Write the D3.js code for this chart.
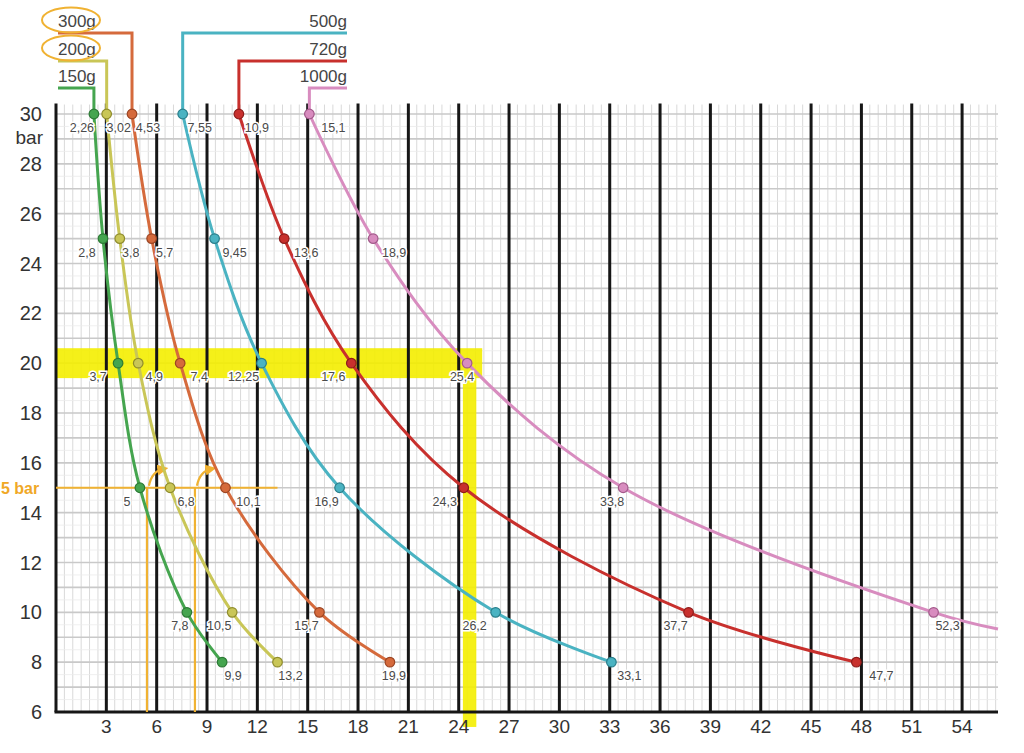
<!DOCTYPE html>
<html><head><meta charset="utf-8">
<script src="https://cdn.jsdelivr.net/npm/d3@7"></script>
<style>
html,body{margin:0;padding:0;background:#fff;}
svg{display:block;}
.cond{font-family:"Liberation Sans Narrow","Arial Narrow","Liberation Sans",Arial,sans-serif;}
</style></head>
<body><svg id="c" width="1024" height="753"></svg>
<script>
// ---- data ----
const pressures = [30, 25, 20, 15, 10, 8];
const seriesNames = ["150g", "200g", "300g", "500g", "720g", "1000g"];
const flow150 = [2.26, 2.8, 3.7, 5, 7.8, 9.9];
const flow200 = [3.02, 3.8, 4.9, 6.8, 10.5, 13.2];
const flow300 = [4.53, 5.7, 7.4, 10.1, 15.7, 19.9];
const flow500 = [7.55, 9.45, 12.25, 16.9, 26.2, 33.1];
const flow720 = [10.9, 13.6, 17.6, 24.3, 37.7, 47.7];
const flow1000 = [15.1, 18.9, 24.5, 33.8, 52.3];
const labels150 = ["2,26", "2,8", "3,7", "5", "7,8", "9,9"];
const labels200 = ["3,02", "3,8", "4,9", "6,8", "10,5", "13,2"];
const labels300 = ["4,53", "5,7", "7,4", "10,1", "15,7", "19,9"];
const labels500 = ["7,55", "9,45", "12,25", "16,9", "26,2", "33,1"];
const labels720 = ["10,9", "13,6", "17,6", "24,3", "37,7", "47,7"];
const labels1000 = ["15,1", "18,9", "25,4", "33,8", "52,3"];
const tail1000 = {x: 56.14, p: 9.33}; // where the 1000g curve leaves the chart
const xTicks = [3, 6, 9, 12, 15, 18, 21, 24, 27, 30, 33, 36, 39, 42, 45, 48, 51, 54];
const yTicks = [6, 8, 10, 12, 14, 16, 18, 20, 22, 24, 26, 28, 30];
const highlightFlow = 25.4, highlightBar = 20;
const annotBar = 15, annotFlows = [5.42, 8.28], annotEnd = 13.2;

// ---- styles / layout ----
const colors = ["#45a54f", "#c9c657", "#d56a3c", "#4ab3c2", "#c8302d", "#d88cbf"];
const strokeDark = ["#2c7a35", "#8f8c2c", "#9c4523", "#2a7f8c", "#8e1d1b", "#a35a8b"];
const labelDx = [
  [-12, -16, -20, -13, -7, 11],
  [12, 11, 16, 16, -13, 13],
  [16, 13, 19, 23, -13, 4],
  [17, 20, -18, -13, -21, 18],
  [18, 22, -18, -19, -13, 25],
  [24, 21, -5, -11, 14]
];
const legendLeft = [true, true, true, false, false, false];
const legendY = [88, 61, 33, 33, 61, 88];
const legendTextY = [82, 55, 27, 27, 55, 82];

const flows = [flow150, flow200, flow300, flow500, flow720, flow1000];
const labs = [labels150, labels200, labels300, labels500, labels720, labels1000];

const svg = d3.select("#c");
const x = d3.scaleLinear().domain([0, 56.14]).range([56, 998]);
const y = d3.scaleLinear().domain([6, 30]).range([712, 114]);
const yTop = y(30.38);

svg.append("rect").attr("width", 1024).attr("height", 753).attr("fill", "#fff");

// minor grid
const g = svg.append("g");
g.selectAll(".vm").data(d3.range(0.5, 56.1, 0.5)).join("line")
  .attr("x1", d => x(d)).attr("x2", d => x(d)).attr("y1", yTop).attr("y2", y(6))
  .attr("stroke", "#d9d9d9").attr("stroke-width", 1);
g.selectAll(".hm").data(d3.range(6.5, 30.4, 0.5)).join("line")
  .attr("x1", x(0)).attr("x2", x(56.14)).attr("y1", d => y(d)).attr("y2", d => y(d))
  .attr("stroke", d => Number.isInteger(d) ? "#c9c9c9" : "#ebebeb").attr("stroke-width", d => Number.isInteger(d) ? 1.6 : 0.8);

// yellow highlight
const yel = svg.append("g").attr("fill", "#f4ee00").attr("opacity", 0.9);
yel.append("rect").attr("x", x(0)).attr("width", x(highlightFlow) - x(0))
  .attr("y", y(highlightBar + 0.6)).attr("height", y(highlightBar - 0.6) - y(highlightBar + 0.6));
yel.append("rect").attr("x", x(24.25)).attr("width", x(25.05) - x(24.25))
  .attr("y", y(highlightBar - 0.6)).attr("height", y(5.4) - y(highlightBar - 0.6));

// black major verticals and axes
svg.append("g").selectAll("line").data([0].concat(xTicks)).join("line")
  .attr("x1", d => x(d)).attr("x2", d => x(d)).attr("y1", yTop - 1).attr("y2", y(6))
  .attr("stroke", "#161616").attr("stroke-width", 3);
svg.append("line").attr("x1", x(0) - 1.5).attr("x2", x(56.14)).attr("y1", y(6)).attr("y2", y(6))
  .attr("stroke", "#161616").attr("stroke-width", 3);

// orange annotation (5 bar)
const ora = "#f0b232";
const an = svg.append("g").attr("stroke", ora).attr("stroke-width", 2.2).attr("fill", "none");
an.append("line").attr("x1", x(0)).attr("x2", x(annotEnd)).attr("y1", y(annotBar)).attr("y2", y(annotBar));
annotFlows.forEach(f => {
  an.append("line").attr("x1", x(f)).attr("x2", x(f)).attr("y1", y(annotBar)).attr("y2", y(6));
});
svg.append("defs").append("marker").attr("id", "ah").attr("viewBox", "0 0 10 10")
  .attr("refX", 5).attr("refY", 5).attr("markerWidth", 5).attr("markerHeight", 5).attr("orient", "auto")
  .append("path").attr("d", "M0,0L10,5L0,10z").attr("fill", ora);
annotFlows.forEach(f => {
  const x0 = x(f) + 2, y0 = y(annotBar) - 2, x1 = x(f + 0.95), y1 = y(annotBar + 0.75);
  an.append("path").attr("d", `M${x0},${y0}Q${x0 + 3},${y1 + 2} ${x1},${y1}`).attr("marker-end", "url(#ah)");
});
svg.append("text").attr("x", 1).attr("y", y(annotBar) + 6).text("5 bar")
  .attr("fill", "#f0a826").attr("font-weight", "bold").attr("font-size", 16)
  .attr("font-family", "Liberation Sans, Arial, sans-serif");

// curves
const line = d3.line().x(d => x(d[0])).y(d => y(d[1])).curve(d3.curveCatmullRom.alpha(0.5));
flows.forEach((fl, i) => {
  const pts = fl.map((v, j) => [v, pressures[j]]);
  if (i === 5) pts.push([tail1000.x, tail1000.p]);
  svg.append("path").attr("d", line(pts)).attr("fill", "none")
    .attr("stroke", colors[i]).attr("stroke-width", 3);
  // leader to legend
  const px = x(fl[0]), py = y(pressures[0]);
  const lx = legendLeft[i] ? 58 : 347;
  svg.append("path").attr("d", `M${lx},${legendY[i]}H${px}V${py}`).attr("fill", "none")
    .attr("stroke", colors[i]).attr("stroke-width", 3);
  svg.append("text").attr("class", "cond").attr("x", legendLeft[i] ? 58 : 347).attr("y", legendTextY[i])
    .attr("text-anchor", legendLeft[i] ? "start" : "end").attr("font-size", 17)
    .attr("fill", "#454545").text(seriesNames[i]);
});

// legend ovals
svg.append("ellipse").attr("cx", 71).attr("cy", 20).attr("rx", 29).attr("ry", 12.5)
  .attr("fill", "none").attr("stroke", ora).attr("stroke-width", 2);
svg.append("ellipse").attr("cx", 71).attr("cy", 48).attr("rx", 29).attr("ry", 12.5)
  .attr("fill", "none").attr("stroke", ora).attr("stroke-width", 2);

// labels then points
flows.forEach((fl, i) => {
  fl.forEach((v, j) => {
    svg.append("text").attr("class", "cond")
      .attr("x", x(v) + labelDx[i][j]).attr("y", y(pressures[j]) + 18)
      .attr("text-anchor", "middle").attr("font-size", 12.5).attr("fill", "#4a4a4a")
      .attr("stroke", "#fff").attr("stroke-width", 3).attr("paint-order", "stroke")
      .text(labs[i][j]);
  });
});
flows.forEach((fl, i) => {
  svg.append("g").selectAll("circle").data(fl).join("circle")
    .attr("cx", d => x(d)).attr("cy", (d, j) => y(pressures[j])).attr("r", 4.8)
    .attr("fill", colors[i]).attr("stroke", strokeDark[i]).attr("stroke-width", 1.2);
});

// axis labels
svg.append("g").selectAll("text").data(xTicks).join("text").attr("class", "cond")
  .attr("x", d => x(d)).attr("y", y(6) + 21).attr("text-anchor", "middle")
  .attr("font-size", 19).attr("fill", "#333").text(d => d);
svg.append("g").selectAll("text").data(yTicks).join("text").attr("class", "cond")
  .attr("x", 42).attr("y", d => y(d) + 7).attr("text-anchor", "end")
  .attr("font-size", 20).attr("fill", "#333").text(d => d);
svg.append("text").attr("class", "cond").attr("x", 43).attr("y", 144).attr("text-anchor", "end")
  .attr("font-size", 19).attr("fill", "#333").text("bar");
</script></body></html>
